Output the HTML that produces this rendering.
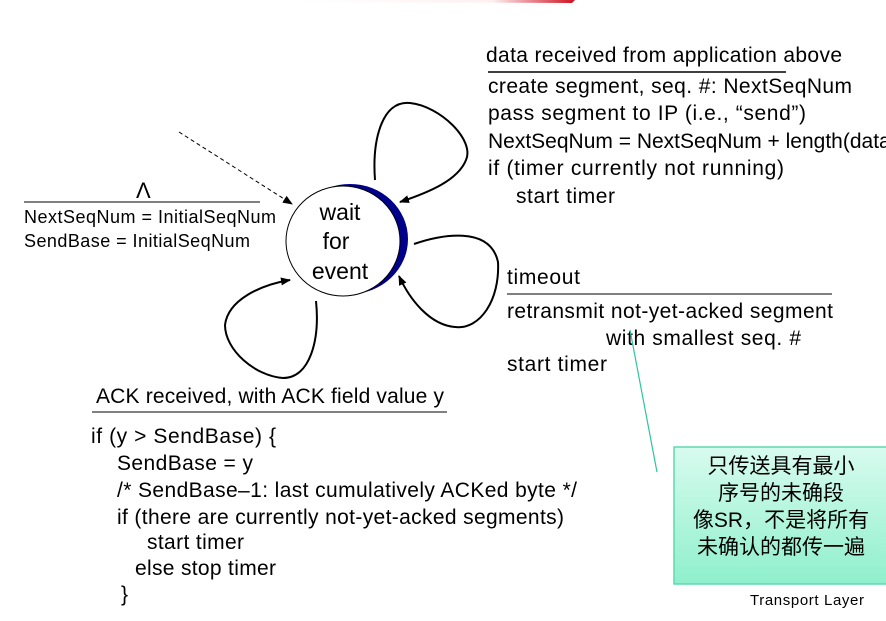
<!DOCTYPE html>
<html><head><meta charset="utf-8"><style>
body{margin:0;background:#fff}
svg text{font-family:"Liberation Sans","Noto Sans CJK SC",sans-serif;fill:#000}
</style></head><body>
<svg width="886" height="616" viewBox="0 0 886 616" xmlns="http://www.w3.org/2000/svg">
<defs>
<linearGradient id="rg" x1="0" x2="1"><stop offset="0" stop-color="#fff"/><stop offset="0.7" stop-color="#fdf0f0"/><stop offset="1" stop-color="#d01020"/></linearGradient>
<linearGradient id="gb" x1="0" y1="0" x2="0" y2="1"><stop offset="0" stop-color="#d8fbef"/><stop offset="1" stop-color="#8ff0cc"/></linearGradient>
<marker id="ah" markerWidth="10" markerHeight="8" refX="9" refY="4" orient="auto" markerUnits="userSpaceOnUse"><path d="M0,0 L10,4 L0,8 z" fill="#000"/></marker>
</defs>
<path d="M300,0 L575,0 L572,3 L300,2 z" fill="url(#rg)"/>

<!-- state -->
<ellipse cx="350" cy="239" rx="58" ry="55" fill="#00008b"/>
<ellipse cx="343" cy="241" rx="57" ry="55" fill="#fff" stroke="#000" stroke-width="1"/>
<text x="340" y="220" font-size="23" text-anchor="middle">wait</text>
<text x="336" y="249" font-size="23" text-anchor="middle">for</text>
<text x="340" y="279" font-size="23" text-anchor="middle">event</text>

<!-- loops -->
<path d="M375,180 C372,140 382,100 410,103 C440,106 475,140 466,160 C458,180 430,192 400,202" fill="none" stroke="#000" stroke-width="2" marker-end="url(#ah)"/>
<path d="M414,244 C440,235 490,225 498,262 C500,300 480,330 455,327 C430,325 410,300 399,276" fill="none" stroke="#000" stroke-width="2" marker-end="url(#ah)"/>
<path d="M316,301 C320,340 310,378 283,378 C255,376 225,350 225,325 C228,300 260,285 290,280" fill="none" stroke="#000" stroke-width="2" marker-end="url(#ah)"/>
<path d="M179,132 L292,204" fill="none" stroke="#000" stroke-width="1" stroke-dasharray="4,3" marker-end="url(#ah)"/>

<!-- init -->
<text x="136" y="198" font-size="22" font-family="Liberation Serif">Λ</text>
<line x1="24" y1="202" x2="260" y2="202" stroke="#000" stroke-width="1"/>
<text x="24" y="223" font-size="18" textLength="252">NextSeqNum = InitialSeqNum</text>
<text x="24" y="247" font-size="18" textLength="226">SendBase = InitialSeqNum</text>

<!-- data -->
<text x="486" y="62" font-size="21" textLength="356">data received from application above</text>
<line x1="488" y1="72" x2="786" y2="72" stroke="#000" stroke-width="1.5"/>
<text x="488" y="93" font-size="21" textLength="364">create segment, seq. #: NextSeqNum</text>
<text x="488" y="120" font-size="21" textLength="318">pass segment to IP (i.e., “send”)</text>
<text x="488" y="148" font-size="21">NextSeqNum = NextSeqNum + length(data)</text>
<text x="488" y="175" font-size="21" textLength="296">if (timer currently not running)</text>
<text x="516" y="203" font-size="21" textLength="99">start timer</text>

<!-- timeout -->
<text x="507" y="284" font-size="21" textLength="73">timeout</text>
<line x1="507" y1="294" x2="832" y2="294" stroke="#000" stroke-width="1"/>
<text x="507" y="318" font-size="21" textLength="326">retransmit not-yet-acked segment</text>
<text x="606" y="345" font-size="21" textLength="195">with smallest seq. #</text>
<text x="507" y="371" font-size="21" textLength="100">start timer</text>

<!-- ack -->
<text x="96" y="403" font-size="21" textLength="348">ACK received, with ACK field value y</text>
<line x1="92" y1="412" x2="447" y2="412" stroke="#000" stroke-width="1"/>
<text x="91" y="443" font-size="21" textLength="185">if (y &gt; SendBase) {</text>
<text x="117" y="470" font-size="21" textLength="136">SendBase = y</text>
<text x="117" y="497" font-size="21" textLength="460">/* SendBase–1: last cumulatively ACKed byte */</text>
<text x="117" y="524" font-size="21" textLength="447">if (there are currently not-yet-acked segments)</text>
<text x="147" y="549" font-size="21" textLength="97">start timer</text>
<text x="135" y="575" font-size="21" textLength="141">else stop timer</text>
<text x="121" y="601" font-size="21">}</text>

<!-- callout -->
<line x1="630" y1="330" x2="657" y2="472" stroke="#2ec4a0" stroke-width="1.2"/>
<rect x="674" y="447" width="214" height="137" fill="url(#gb)" stroke="#5fd8b0" stroke-width="1.5"/>
<g font-size="21" text-anchor="middle">
<text x="781" y="473">只传送具有最小</text>
<text x="781" y="500">序号的未确段</text>
<text x="781" y="527">像SR，不是将所有</text>
<text x="781" y="554">未确认的都传一遍</text>
</g>
<text x="750" y="605" font-size="15" textLength="114">Transport Layer</text>
</svg>
</body></html>
